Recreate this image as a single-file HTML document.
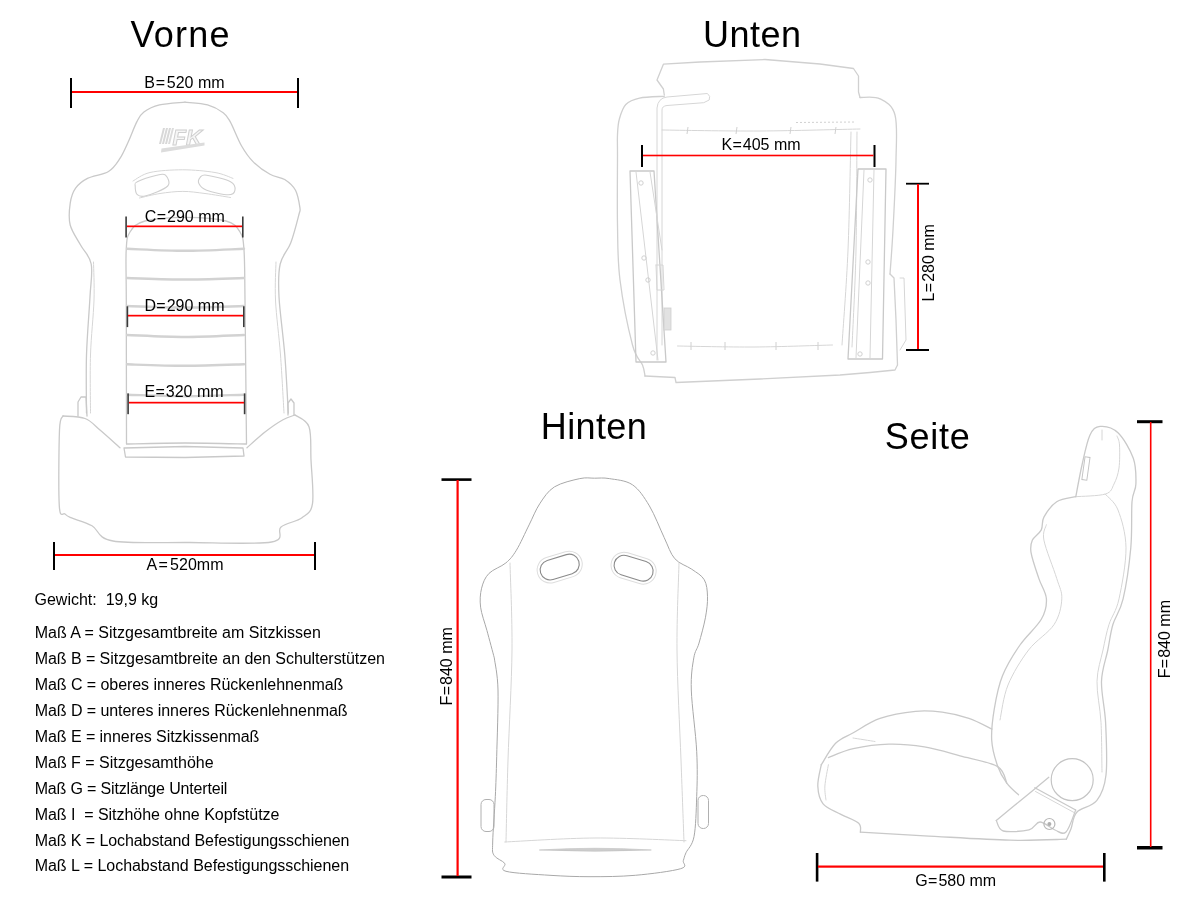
<!DOCTYPE html>
<html><head><meta charset="utf-8">
<style>
html,body{margin:0;padding:0;background:#fff;width:1200px;height:900px;overflow:hidden}
svg{position:absolute;left:0;top:0;will-change:transform}
text{font-family:"Liberation Sans",sans-serif;fill:#000}
.t{font-size:36px}
.l{font-size:16px}
.s{stroke:#c9c9c9;stroke-width:1.3;fill:none;stroke-linecap:round;stroke-linejoin:round}
.s2{stroke:#d6d6d6;stroke-width:1;fill:none;stroke-linecap:round;stroke-linejoin:round}
.s3{stroke:#cfcfcf;stroke-width:1.1;fill:none;stroke-linecap:round;stroke-linejoin:round}
.s4{stroke:#d2d2d2;stroke-width:2.4;fill:none;stroke-linecap:round}
.s5{stroke:#d0d0d0;stroke-width:1.3;fill:none;stroke-linecap:round;stroke-linejoin:round}
.h{stroke:#a8a8a8;stroke-width:1;fill:none;stroke-linejoin:round}
</style></head><body>
<svg width="1200" height="900" viewBox="0 0 1200 900">
<g id="seats">
<path class="s" d="M185.0 102.1 C180.8 102.6 166.3 103.2 159.5 104.9 C152.7 106.6 147.7 109.2 143.9 112.0 C140.1 114.8 139.4 117.0 136.8 121.9 C134.2 126.9 131.1 135.6 128.3 141.7 C125.5 147.8 123.1 153.7 119.8 158.7 C116.5 163.7 113.9 168.2 108.5 171.5 C103.1 174.8 93.0 175.6 87.5 178.4 C82.0 181.2 78.5 184.0 75.6 188.2 C72.7 192.3 71.1 197.2 70.2 203.3 C69.3 209.4 68.5 218.0 70.2 225.0 C72.0 232.0 77.2 238.8 80.7 245.3 C84.2 251.8 89.7 255.4 91.2 264.0 C92.8 272.6 90.8 281.5 90.0 296.7 C89.2 311.9 87.1 335.6 86.5 355.0 C85.9 374.4 86.5 403.3 86.5 413.0"/>
<path class="s" d="M185.0 102.1 C188.8 102.6 201.2 103.1 207.6 104.9 C214.0 106.7 219.4 109.9 223.2 112.7 C227.0 115.5 227.2 116.4 230.3 121.9 C233.4 127.5 237.8 139.4 241.6 146.0 C245.4 152.6 248.3 156.9 253.0 161.6 C257.7 166.3 264.7 171.3 270.0 174.3 C275.3 177.3 280.4 176.8 284.7 179.5 C288.9 182.2 293.0 185.6 295.5 190.3 C298.0 195.0 299.3 203.6 299.9 207.7 C300.4 211.8 300.3 209.1 298.8 215.0 C297.3 220.9 293.8 234.8 290.7 243.0 C287.6 251.2 282.1 255.1 280.2 264.0 C278.2 272.9 278.2 281.5 279.0 296.7 C279.8 311.9 283.2 335.6 284.8 355.0 C286.4 374.4 287.7 403.3 288.3 413.0"/>
<path class="s2" d="M93.5 262.0 C93.6 268.3 94.5 284.5 94.0 300.0 C93.5 315.5 91.1 336.2 90.5 355.0 C89.9 373.8 90.5 403.3 90.5 413.0"/>
<path class="s2" d="M276.0 262.0 C275.9 268.3 274.8 284.5 275.5 300.0 C276.2 315.5 279.1 336.2 280.5 355.0 C281.9 373.8 283.4 403.3 284.0 413.0"/>
<path class="s" d="M63.0 416.0 C62.4 418.3 60.1 415.0 59.5 430.0 C58.9 445.0 58.4 492.0 59.3 506.0 C60.2 520.0 63.0 512.0 65.0 514.0 C67.0 516.0 66.5 515.7 71.0 517.7 C75.5 519.7 85.0 521.9 92.0 525.8 C99.0 529.7 96.7 538.2 113.0 541.0 C129.3 543.8 163.6 542.3 190.0 542.5 C216.4 542.7 256.4 544.6 271.6 542.0 C286.8 539.4 275.9 531.0 281.0 527.0 C286.1 523.0 296.8 521.6 302.0 517.7 C307.2 513.8 311.0 513.3 312.5 503.7 C314.0 494.1 311.6 472.8 311.0 460.0 C310.4 447.2 311.7 434.2 309.0 426.7 C306.3 419.2 297.3 416.9 295.0 415.0"/>
<path class="s" d="M63.0 416.0 C66.7 416.4 78.8 416.2 85.0 418.5 C91.2 420.8 94.2 425.1 100.0 430.0 C105.8 434.9 116.7 444.8 120.0 447.7"/>
<path class="s" d="M247.0 447.7 C250.0 445.1 259.0 436.7 265.0 432.0 C271.0 427.3 278.0 422.5 283.0 419.7 C288.0 416.9 293.0 415.8 295.0 415.0"/>
<path class="s" d="M124.0 448.0 L185.0 446.5 L243.0 448.0 L244.0 456.0 L185.0 457.5 L125.5 457.0 L124.0 448.0"/>
<path class="s" d="M126.5 444.0 C126.5 420.0 126.3 332.3 126.3 300.0 C126.2 267.7 125.6 261.3 126.2 250.0 C126.8 238.7 126.9 236.8 130.0 232.0 C133.1 227.2 135.7 223.4 145.0 221.0 C154.3 218.6 172.2 217.3 185.7 217.3 C199.2 217.3 216.9 218.6 226.0 221.0 C235.1 223.4 237.0 227.2 240.0 232.0 C243.0 236.8 243.2 238.7 244.0 250.0 C244.8 261.3 244.6 267.7 245.0 300.0 C245.4 332.3 246.2 420.0 246.5 444.0"/>
<path class="s4" d="M127.0 248.8 C136.7 249.1 165.5 250.8 185.0 250.8 C204.5 250.8 234.2 249.1 244.0 248.8"/>
<path class="s4" d="M127.0 278.0 C136.7 278.2 165.5 279.5 185.0 279.5 C204.5 279.5 234.2 278.2 244.0 278.0"/>
<path class="s4" d="M127.0 306.0 C136.7 306.2 165.5 307.5 185.0 307.5 C204.5 307.5 234.2 306.2 244.0 306.0"/>
<path class="s4" d="M127.0 335.0 C136.7 335.3 165.5 337.0 185.0 337.0 C204.5 337.0 234.2 335.3 244.0 335.0"/>
<path class="s4" d="M127.0 364.3 C136.7 364.6 165.5 365.8 185.0 365.8 C204.5 365.8 234.2 364.6 244.0 364.3"/>
<path class="s4" d="M127.0 394.7 C136.7 394.9 165.5 396.2 185.0 396.2 C204.5 396.2 234.2 394.9 244.0 394.7"/>
<path class="s" d="M127.0 444.0 C136.7 443.8 165.2 443.0 185.0 443.0 C204.8 443.0 235.8 443.8 246.0 444.0"/>
<path class="s" d="M78.0 416.0 L78.0 402.0 L81.0 397.0 L86.0 397.0 L87.0 416.0"/>
<path class="s" d="M288.0 415.0 L288.0 403.0 L291.0 399.0 L294.0 403.0 L294.0 415.0"/>
<path class="s3" d="M135.2 186.0 C135.2 188.2 135.5 193.1 137.3 194.7 C139.1 196.3 140.9 197.2 146.0 195.8 C151.1 194.4 164.4 189.4 167.7 186.0 C170.9 182.6 167.3 177.0 165.5 175.2 C163.7 173.4 161.5 174.1 156.8 175.2 C152.1 176.3 140.9 179.9 137.3 181.7 C133.7 183.5 135.2 183.8 135.2 186.0Z"/>
<path class="s3" d="M200.2 177.3 C201.5 175.9 201.6 174.5 206.7 175.2 C211.8 175.9 225.8 179.2 230.5 181.7 C235.2 184.2 235.3 188.1 234.9 190.3 C234.5 192.5 233.0 194.7 228.3 194.7 C223.6 194.7 211.6 192.1 206.7 190.3 C201.8 188.5 200.1 186.0 199.0 183.8 C197.9 181.6 198.9 178.7 200.2 177.3Z"/>
<path class="s2" d="M133.0 181.0 C135.8 179.6 141.7 174.4 150.0 172.5 C158.3 170.6 172.0 169.8 182.8 169.8 C193.6 169.8 206.6 171.1 215.0 172.5 C223.4 173.9 230.0 177.4 233.0 178.4"/>
<path class="s2" d="M139.5 198.0 C142.9 197.2 152.8 194.6 160.0 193.5 C167.2 192.4 175.3 191.4 182.8 191.4 C190.3 191.4 197.1 192.5 205.0 193.5 C212.9 194.5 226.2 196.8 230.5 197.5"/>
<text x="172.5" y="145" style="font-family:'Liberation Sans';font-style:italic;font-weight:bold;font-size:22px;fill:#f6f6f6;stroke:#d0d0d0;stroke-width:1">FK</text>
<g transform="translate(163,128) skewX(-14)"><rect x="0" y="0" width="2" height="16" fill="#d8d8d8"/><rect x="3" y="0" width="2" height="16" fill="#d8d8d8"/><rect x="6" y="0" width="2" height="16" fill="#d8d8d8"/><rect x="9" y="0" width="2" height="16" fill="#dcdcdc"/></g>
<path d="M161 152.5 L204.5 145.5 L204.5 142.5 L161.5 148.5Z" fill="#dcdcdc"/>
<path class="s5" d="M664.3 95.0 L663.4 89.0 L657.0 80.0 L663.4 64.2 L700.0 62.0 L765.0 59.5 L820.0 64.0 L853.5 68.5 L858.5 76.0 L858.5 92.0 L860.0 97.5"/>
<path class="s5" d="M664.3 96.3 C660.2 96.6 645.9 96.7 639.5 98.1 C633.1 99.5 629.2 101.0 625.8 104.5 C622.4 108.0 620.7 114.2 619.3 119.2 C617.9 124.2 617.8 128.8 617.5 134.8 C617.2 140.8 617.5 140.0 617.5 155.0 C617.5 170.0 617.1 204.2 617.5 225.0 C617.9 245.8 617.5 260.0 620.0 280.0 C622.5 300.0 628.8 330.8 632.5 345.0 C636.2 359.2 640.4 359.8 642.5 365.0 C644.6 370.2 644.6 374.2 645.0 376.0"/>
<path class="s5" d="M645.0 376.0 L675.0 377.5 L676.0 382.5 L760.0 379.0 L840.0 375.0 L870.0 372.5 L895.0 370.0 L897.5 365.0"/>
<path class="s5" d="M860.0 97.5 C863.3 97.7 874.2 95.8 880.0 98.8 C885.8 101.7 892.3 104.8 895.0 115.0 C897.7 125.2 896.3 140.8 896.0 160.0 C895.7 179.2 894.0 211.0 893.0 230.0 C892.0 249.0 890.5 266.7 890.0 274.0"/>
<path class="s5" d="M890.0 274.0 L894.0 278.0 L896.0 320.0 L897.5 365.0"/>
<path class="s2" d="M662.0 130.0 C678.3 130.2 727.0 131.2 760.0 131.0 C793.0 130.8 843.3 129.3 860.0 129.0"/>
<path class="s2" d="M677.5 346.0 C690.4 346.2 729.2 347.2 755.0 347.0 C780.8 346.8 819.6 345.3 832.5 345.0"/>
<path class="s2" d="M657 360 L657 108 Q658 98 667 97 L707.4 93.5 Q711 96 709.2 100 L703.7 102.7 L667 105.5 Q662 106 662 110 L662 345"/>
<path class="s2" d="M851.0 132.0 C850.5 151.7 849.5 214.5 848.0 250.0 C846.5 285.5 843.0 329.2 842.0 345.0"/>
<path class="s2" d="M857.0 132.0 C856.8 151.7 856.8 214.2 856.0 250.0 C855.2 285.8 852.7 330.8 852.0 347.0"/>
<path class="s" d="M630.0 171.0 L654.0 171.0 L666.0 362.0 L636.0 362.0 L630.0 171.0"/>
<path class="s2" d="M636.0 172.0 L658.0 360.0"/>
<path class="s2" d="M650.0 172.0 L662.0 250.0"/>
<path class="s" d="M858.0 169.0 L886.0 169.0 L882.5 359.0 L848.0 359.0 L858.0 169.0"/>
<path class="s2" d="M874.0 170.0 L870.0 358.0"/>
<path class="s2" d="M864.0 170.0 L856.0 358.0"/>
<line x1="796" y1="122.5" x2="856" y2="122" stroke="#d0d0d0" stroke-width="1" stroke-dasharray="2 2"/>
<path class="s2" d="M656.0 265.0 L663.0 265.0 L664.0 290.0 L657.0 290.0 L656.0 265.0"/>
<rect x="664" y="308" width="7" height="22" fill="#e2e2e2" stroke="#cfcfcf" stroke-width="0.8"/>
<path class="s2" d="M900.0 278.0 L904.0 278.0 L906.0 340.0 L900.0 350.0"/>
<circle cx="641" cy="183" r="2.2" fill="none" stroke="#cccccc" stroke-width="0.9"/>
<circle cx="644" cy="258" r="2.2" fill="none" stroke="#cccccc" stroke-width="0.9"/>
<circle cx="648" cy="280" r="2.2" fill="none" stroke="#cccccc" stroke-width="0.9"/>
<circle cx="653" cy="353" r="2.2" fill="none" stroke="#cccccc" stroke-width="0.9"/>
<circle cx="870" cy="180" r="2.2" fill="none" stroke="#cccccc" stroke-width="0.9"/>
<circle cx="868" cy="262" r="2.2" fill="none" stroke="#cccccc" stroke-width="0.9"/>
<circle cx="868" cy="283" r="2.2" fill="none" stroke="#cccccc" stroke-width="0.9"/>
<circle cx="860" cy="354" r="2.2" fill="none" stroke="#cccccc" stroke-width="0.9"/>
<line x1="688" y1="127" x2="687" y2="134" stroke="#d0d0d0" stroke-width="1"/>
<line x1="737" y1="127" x2="736" y2="134" stroke="#d0d0d0" stroke-width="1"/>
<line x1="791" y1="127" x2="790" y2="134" stroke="#d0d0d0" stroke-width="1"/>
<line x1="836" y1="127" x2="835" y2="134" stroke="#d0d0d0" stroke-width="1"/>
<line x1="691" y1="342" x2="691" y2="350" stroke="#d0d0d0" stroke-width="1"/>
<line x1="725" y1="342" x2="725" y2="350" stroke="#d0d0d0" stroke-width="1"/>
<line x1="776" y1="342" x2="776" y2="350" stroke="#d0d0d0" stroke-width="1"/>
<line x1="818" y1="342" x2="818" y2="350" stroke="#d0d0d0" stroke-width="1"/>
<path class="h" d="M494.3 657.9 C493.1 653.3 489.2 638.8 486.9 630.4 C484.6 622.0 481.5 614.2 480.6 607.2 C479.7 600.2 480.2 593.8 481.6 588.2 C483.0 582.6 484.9 577.6 489.0 573.4 C493.1 569.2 501.3 566.8 505.9 562.9 C510.5 559.0 512.5 556.5 516.4 550.2 C520.3 543.9 525.2 532.6 529.1 524.9 C533.0 517.2 535.5 510.1 539.7 503.8 C543.9 497.5 547.7 491.1 554.4 486.9 C561.1 482.7 573.1 480.1 579.8 478.6 C586.5 477.2 589.6 478.2 594.5 478.2 C599.4 478.2 603.0 477.5 609.3 478.6 C615.6 479.7 625.8 480.2 632.5 484.8 C639.2 489.4 644.1 497.1 649.4 505.9 C654.7 514.7 660.0 528.8 664.2 537.6 C668.4 546.4 670.2 553.4 674.8 558.7 C679.4 564.0 686.8 565.7 691.7 569.2 C696.6 572.7 701.7 575.2 704.3 579.8 C706.9 584.4 707.3 590.4 707.5 596.7 C707.7 603.0 706.8 610.1 705.4 617.8 C704.0 625.5 700.9 636.4 699.0 643.1 C697.1 649.8 695.1 650.1 693.8 657.9 C692.5 665.7 690.8 674.4 691.3 690.0 C691.8 705.6 695.8 733.5 696.7 751.3 C697.6 769.1 697.2 782.5 696.7 796.7 C696.2 810.9 695.8 827.4 694.0 836.7 C692.2 846.0 687.8 848.7 686.0 852.7 C684.2 856.7 684.2 858.0 683.3 860.7 C682.4 863.4 688.7 866.3 680.7 868.7 C672.7 871.1 650.4 874.0 635.3 875.3 C620.2 876.6 604.2 876.7 590.0 876.7 C575.8 876.7 564.0 876.2 550.0 875.3 C536.0 874.4 513.5 873.3 506.0 871.3 C498.4 869.3 506.7 866.0 504.7 863.3 C502.7 860.6 496.0 858.8 494.0 855.3 C492.0 851.8 492.5 851.8 492.7 842.0 C492.9 832.2 494.6 810.9 495.3 796.7 C496.0 782.5 496.2 774.5 496.7 756.7 C497.1 738.9 498.4 706.5 498.0 690.0 C497.6 673.5 494.9 663.2 494.3 657.9"/>
<path class="s2" d="M510.0 563.0 C510.3 577.5 512.3 617.2 512.0 650.0 C511.7 682.8 509.0 728.0 508.0 760.0 C507.0 792.0 506.3 828.3 506.0 842.0"/>
<path class="s2" d="M679.0 563.0 C678.7 577.5 676.7 617.2 677.0 650.0 C677.3 682.8 679.8 728.0 681.0 760.0 C682.2 792.0 683.5 828.3 684.0 842.0"/>
<path class="s2" d="M504.7 842.0 C519.8 841.3 564.8 838.2 595.0 838.0 C625.2 837.8 670.8 840.2 686.0 840.7"/>
<g transform="translate(559.7,567.1) rotate(-17)"><rect x="-20" y="-10" width="40" height="20" rx="10" fill="none" stroke="#8a8a8a" stroke-width="1.1"/><rect x="-23" y="-13" width="46" height="26" rx="13" fill="none" stroke="#dedede" stroke-width="1"/></g>
<g transform="translate(633.6,568.2) rotate(17)"><rect x="-20" y="-10" width="40" height="20" rx="10" fill="none" stroke="#8a8a8a" stroke-width="1.1"/><rect x="-23" y="-13" width="46" height="26" rx="13" fill="none" stroke="#dedede" stroke-width="1"/></g>
<rect x="481" y="799.5" width="13" height="32" rx="5" fill="none" stroke="#b0b0b0" stroke-width="1"/>
<rect x="698" y="795.5" width="10.5" height="33" rx="5" fill="none" stroke="#b0b0b0" stroke-width="1"/>
<path d="M539.3 850 Q595 846.5 651.3 850 Q595 852.5 539.3 850Z" fill="#cdcdcd" stroke="#c0c0c0" stroke-width="0.6"/>
<path class="s" d="M1075.8 496.7 C1076.8 491.4 1079.7 475.2 1082.0 465.0 C1084.3 454.8 1086.9 441.7 1089.9 435.3 C1092.9 428.9 1095.4 426.8 1100.1 426.4 C1104.8 426.0 1112.5 427.5 1118.0 432.8 C1123.5 438.1 1130.3 449.8 1133.3 458.3 C1136.3 466.8 1136.1 476.6 1135.9 483.9 C1135.7 491.1 1132.8 491.2 1132.0 501.8 C1131.2 512.5 1132.3 531.6 1130.8 547.8 C1129.3 564.0 1126.1 586.1 1123.1 598.9 C1120.1 611.7 1115.5 616.0 1112.9 624.5 C1110.4 633.0 1109.7 640.5 1107.8 650.0 C1105.9 659.5 1101.9 669.2 1101.5 681.3 C1101.1 693.4 1104.8 706.9 1105.6 722.5 C1106.3 738.1 1107.5 762.0 1106.0 775.0 C1104.5 788.0 1101.6 794.5 1096.7 800.7 C1091.8 806.9 1081.1 807.6 1076.8 812.3 C1072.5 817.0 1072.8 824.2 1071.0 828.7 C1069.2 833.2 1067.1 837.5 1066.3 839.2"/>
<path class="s2" d="M1075.8 496.7 C1080.8 496.2 1099.1 496.1 1105.5 494.0 C1111.9 491.9 1111.8 488.3 1114.0 484.0 C1116.2 479.7 1118.1 474.5 1119.0 468.0 C1119.9 461.5 1119.8 450.3 1119.5 445.0 C1119.2 439.7 1117.4 437.5 1117.0 436.0"/>
<path class="s2" d="M1105.2 494.1 C1107.3 496.8 1114.5 501.1 1118.0 510.0 C1121.5 519.0 1125.8 533.0 1126.0 547.8 C1126.2 562.6 1121.8 586.1 1119.0 598.9 C1116.2 611.7 1111.7 616.0 1109.0 624.5 C1106.3 633.0 1105.0 640.5 1103.0 650.0 C1101.0 659.5 1097.3 669.2 1097.0 681.3 C1096.7 693.4 1100.2 707.4 1101.0 722.5 C1101.8 737.6 1101.8 763.8 1102.0 772.0"/>
<path class="s" d="M1075.8 496.7 C1072.6 497.6 1062.0 498.4 1056.7 501.8 C1051.4 505.2 1046.5 512.4 1043.9 517.1 C1041.3 521.8 1043.2 526.1 1041.3 529.9 C1039.4 533.7 1034.1 536.3 1032.4 540.1 C1030.7 543.9 1030.0 546.5 1031.1 552.9 C1032.2 559.3 1036.2 570.7 1038.8 578.4 C1041.3 586.1 1046.0 592.1 1046.4 598.9 C1046.8 605.7 1045.7 611.6 1041.3 619.3 C1036.9 627.0 1026.5 635.6 1020.0 645.0 C1013.5 654.4 1006.8 665.2 1002.5 675.8 C998.2 686.4 996.1 698.1 994.3 708.8 C992.5 719.5 991.2 730.5 991.7 740.0 C992.2 749.5 995.0 758.5 997.5 765.7 C1000.0 772.9 1003.3 778.4 1006.8 783.2 C1010.3 788.1 1016.5 792.9 1018.5 794.8"/>
<path class="s2" d="M1046.4 524.8 C1046.0 527.3 1042.2 531.2 1043.9 540.1 C1045.6 549.0 1053.7 568.6 1056.7 578.4 C1059.7 588.2 1062.2 591.2 1061.8 598.9 C1061.4 606.6 1059.6 616.0 1054.1 624.5 C1048.6 633.0 1036.3 639.9 1028.6 650.0 C1020.9 660.1 1012.8 673.3 1008.0 685.0 C1003.2 696.7 1001.3 714.2 1000.0 720.0"/>
<path class="s" d="M821.3 764.7 C823.7 761.1 830.3 748.6 835.6 743.3 C840.9 738.0 845.9 736.9 853.3 732.7 C860.7 728.6 869.6 722.0 880.0 718.4 C890.4 714.8 905.2 712.3 915.6 711.3 C926.0 710.3 933.3 711.0 942.2 712.2 C951.1 713.4 960.6 715.6 968.9 718.4 C977.2 721.2 988.1 727.3 992.0 729.1"/>
<path class="s" d="M828.4 757.6 C832.5 756.1 843.2 750.9 853.3 748.7 C863.4 746.5 877.0 744.5 888.9 744.2 C900.8 743.9 912.5 745.0 924.4 746.9 C936.2 748.8 947.9 752.5 960.0 755.8 C972.1 759.0 989.5 761.8 997.3 766.4 C1005.1 771.0 1005.2 780.4 1006.8 783.2"/>
<path class="s" d="M821.3 764.7 C820.7 768.2 817.5 779.5 817.8 786.0 C818.1 792.5 819.2 799.1 823.1 803.8 C827.0 808.5 835.0 811.1 840.9 814.4 C846.8 817.6 855.5 820.3 858.7 823.3 C862.0 826.3 860.1 830.7 860.4 832.2"/>
<path class="s" d="M860.4 832.2 C871.1 832.8 899.5 834.5 924.4 835.8 C949.3 837.1 986.1 839.6 1009.8 840.2 C1033.5 840.8 1056.9 839.4 1066.3 839.2"/>
<path class="s2" d="M828.4 764.7 C827.8 768.2 825.3 780.1 824.9 786.0 C824.5 791.9 825.8 797.7 826.0 800.0"/>
<path class="s2" d="M853.0 738.0 C856.7 738.6 871.3 740.9 875.0 741.5"/>
<circle cx="1072.2" cy="779.7" r="21" fill="none" stroke="#c4c4c4" stroke-width="1.2"/>
<path class="s" d="M996.3 820.5 C1000.2 817.2 1011.2 808.2 1020.0 801.0 C1028.8 793.8 1044.0 781.2 1048.8 777.3"/>
<path class="s" d="M996.3 820.5 C997.5 822.2 997.8 829.5 1003.3 831.0 C1008.8 832.5 1022.9 831.3 1029.0 829.8 C1035.1 828.3 1035.7 822.0 1040.0 822.0 C1044.3 822.0 1050.7 828.3 1055.0 830.0 C1059.3 831.7 1062.5 835.3 1066.0 832.0 C1069.5 828.7 1074.1 813.7 1075.7 810.0"/>
<path class="s" d="M1034.8 787.8 L1075.7 810.0"/>
<path class="s2" d="M1035.5 791.5 L1074.0 812.5"/>
<circle cx="1049.4" cy="824" r="5.5" fill="none" stroke="#b8b8b8" stroke-width="1.2"/>
<circle cx="1049.4" cy="824" r="2" fill="#b0b0b0"/>
<path class="s2" d="M1102.0 430.0 L1102.0 440.0"/>
<rect x="1083.5" y="457" width="5" height="23" fill="none" stroke="#c4c4c4" stroke-width="1" transform="rotate(8 1086 468)"/>
</g>
<g id="titles">
<text class="t" x="130.6" y="46.5" textLength="99" lengthAdjust="spacing">Vorne</text>
<text class="t" x="703" y="46.5" textLength="98" lengthAdjust="spacing">Unten</text>
<text class="t" x="540.8" y="438.7" textLength="106" lengthAdjust="spacing">Hinten</text>
<text class="t" x="884.8" y="449.2" textLength="85" lengthAdjust="spacing">Seite</text>
</g>
<g id="dims">
<!-- B -->
<rect x="70" y="78" width="2" height="30" fill="#000"/>
<rect x="297" y="78" width="2" height="30" fill="#000"/>
<rect x="72" y="91" width="225" height="2" fill="#f00"/>
<text class="l" x="144.2" y="87.7">B<tspan dx="0.8">=</tspan><tspan dx="1.8">520 mm</tspan></text>
<!-- C -->
<rect x="125.3" y="216.5" width="1.6" height="21" fill="#3a3a3a"/>
<rect x="242" y="216.5" width="1.6" height="21" fill="#3a3a3a"/>
<rect x="127" y="225.5" width="115" height="1.7" fill="#f00"/>
<text class="l" x="144.7" y="221.7">C<tspan dx="0.4">=</tspan><tspan dx="1.0">290 mm</tspan></text>
<!-- D -->
<rect x="126.6" y="306.3" width="1.6" height="20.8" fill="#3a3a3a"/>
<rect x="243" y="306.3" width="1.6" height="20.8" fill="#3a3a3a"/>
<rect x="128" y="314.8" width="115" height="1.7" fill="#f00"/>
<text class="l" x="144.4" y="310.6">D<tspan dx="0.4">=</tspan><tspan dx="1.0">290 mm</tspan></text>
<!-- E -->
<rect x="127.3" y="393.4" width="1.6" height="20.8" fill="#3a3a3a"/>
<rect x="243.8" y="393.4" width="1.6" height="20.8" fill="#3a3a3a"/>
<rect x="129" y="401.8" width="115" height="1.7" fill="#f00"/>
<text class="l" x="144.4" y="396.7">E<tspan dx="0.4">=</tspan><tspan dx="1.0">320 mm</tspan></text>
<!-- A -->
<rect x="53" y="542" width="2" height="28" fill="#000"/>
<rect x="314" y="542" width="2" height="28" fill="#000"/>
<rect x="55" y="554" width="259" height="2" fill="#f00"/>
<text class="l" x="146.5" y="570">A<tspan dx="1.4">=</tspan><tspan dx="2.2">520mm</tspan></text>
<!-- K -->
<rect x="641" y="145" width="2" height="22" fill="#000"/>
<rect x="873.5" y="145" width="2" height="22" fill="#000"/>
<rect x="643" y="154.7" width="230.5" height="1.6" fill="#f00"/>
<text class="l" x="721.4" y="149.5">K<tspan dx="0.4">=</tspan><tspan dx="1.0">405 mm</tspan></text>
<!-- L -->
<rect x="906" y="182.8" width="23" height="1.8" fill="#000"/>
<rect x="906" y="349" width="23" height="2" fill="#000"/>
<rect x="917" y="184" width="2" height="165" fill="#f00"/>
<text class="l" transform="translate(934,301.5) rotate(-90)" x="0" y="0">L<tspan dx="0.4">=</tspan><tspan dx="1.0">280 mm</tspan></text>
<!-- F Hinten -->
<rect x="441.5" y="478.3" width="30" height="2.6" fill="#000"/>
<rect x="441.5" y="875.5" width="30" height="3" fill="#000"/>
<rect x="456.5" y="480" width="2.2" height="396" fill="#f00"/>
<text class="l" transform="translate(451.9,705.5) rotate(-90)" x="0" y="0">F<tspan dx="0.4">=</tspan><tspan dx="1.0">840 mm</tspan></text>
<!-- F Seite -->
<rect x="1137" y="420.2" width="25.5" height="3" fill="#000"/>
<rect x="1137" y="846" width="25.5" height="3.5" fill="#000"/>
<rect x="1149.9" y="422" width="1.6" height="425" fill="#f00"/>
<text class="l" transform="translate(1170,678.3) rotate(-90)" x="0" y="0">F<tspan dx="0.4">=</tspan><tspan dx="1.0">840 mm</tspan></text>
<!-- G -->
<rect x="815.8" y="853" width="2.6" height="28.6" fill="#000"/>
<rect x="1103" y="853" width="2.6" height="28.6" fill="#000"/>
<rect x="818" y="865.5" width="285" height="2.2" fill="#f00"/>
<text class="l" x="915.2" y="886.3">G<tspan dx="0.4">=</tspan><tspan dx="1.0">580 mm</tspan></text>
</g>
<g id="list" class="l">
<text class="l" x="34.5" y="604.5" xml:space="preserve">Gewicht:  19,9 kg</text>
<text class="l" x="34.7" textLength="286.2" lengthAdjust="spacing" y="637.8">Maß A = Sitzgesamtbreite am Sitzkissen</text>
<text class="l" x="34.7" textLength="350.2" lengthAdjust="spacing" y="663.75">Maß B = Sitzgesamtbreite an den Schulterstützen</text>
<text class="l" x="34.7" textLength="308.7" lengthAdjust="spacing" y="689.8">Maß C = oberes inneres Rückenlehnenmaß</text>
<text class="l" x="34.7" textLength="312.9" lengthAdjust="spacing" y="715.5">Maß D = unteres inneres Rückenlehnenmaß</text>
<text class="l" x="34.7" textLength="224.7" lengthAdjust="spacing" y="741.9">Maß E = inneres Sitzkissenmaß</text>
<text class="l" x="34.7" textLength="178.9" lengthAdjust="spacing" y="767.5">Maß F = Sitzgesamthöhe</text>
<text class="l" x="34.7" textLength="192.7" lengthAdjust="spacing" y="793.7">Maß G = Sitzlänge Unterteil</text>
<text class="l" x="34.7" textLength="244.7" lengthAdjust="spacing" y="819.8" xml:space="preserve">Maß I  = Sitzhöhe ohne Kopfstütze</text>
<text class="l" x="34.7" textLength="314.8" lengthAdjust="spacing" y="845.5">Maß K = Lochabstand Befestigungsschienen</text>
<text class="l" x="34.7" textLength="314.4" lengthAdjust="spacing" y="871">Maß L = Lochabstand Befestigungsschienen</text>
</g>
</svg>
</body></html>
